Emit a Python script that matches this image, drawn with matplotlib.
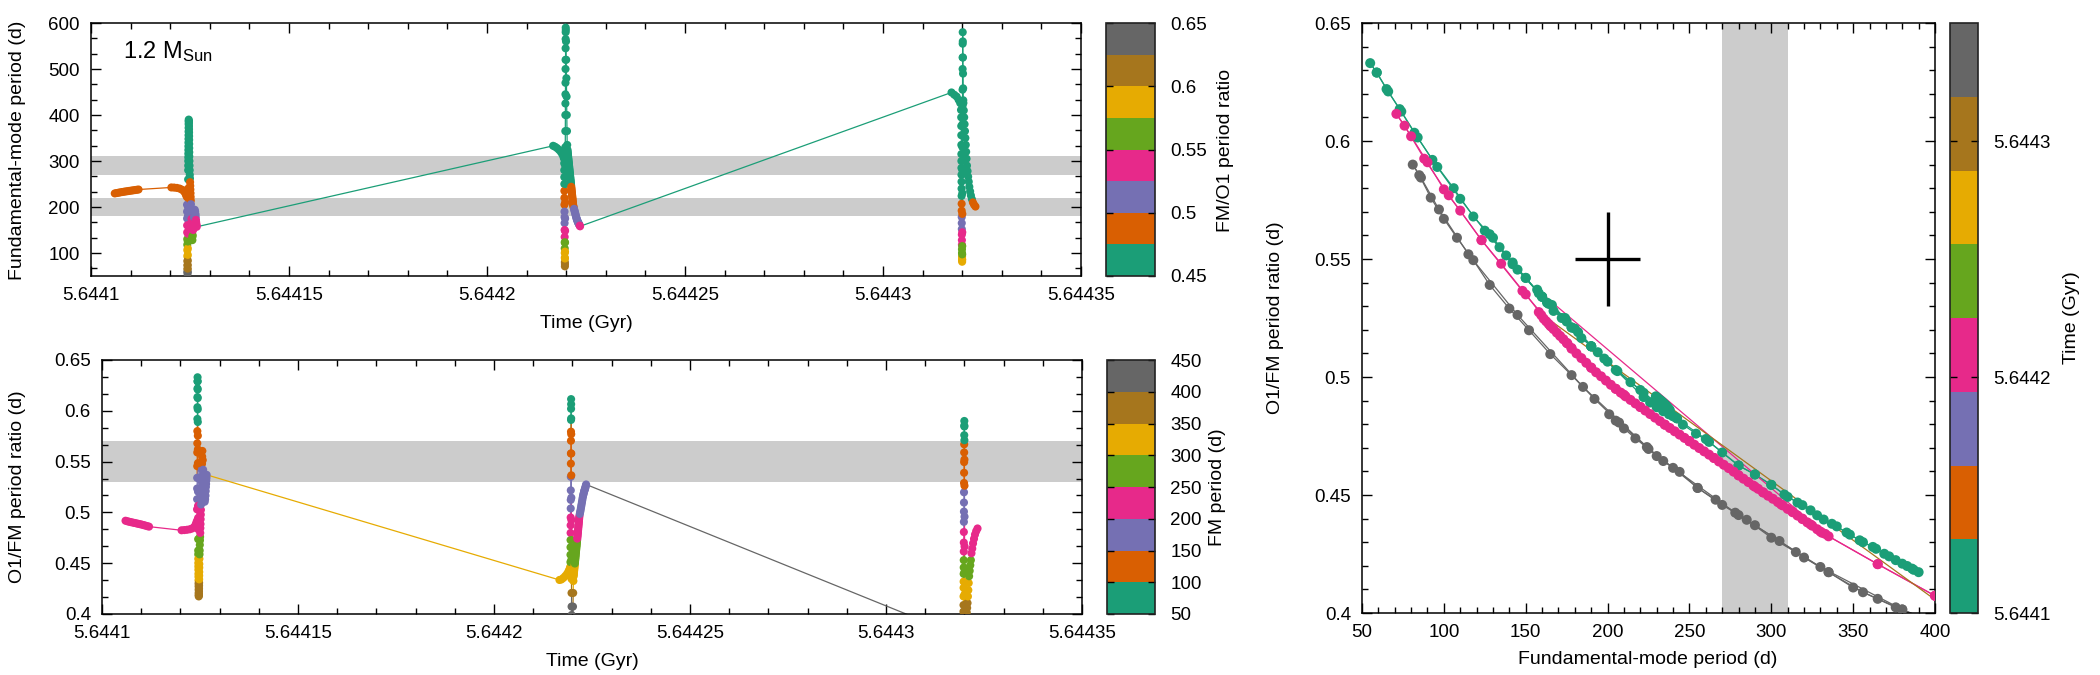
import numpy as np
import matplotlib
matplotlib.use('Agg')
import matplotlib.pyplot as plt
from matplotlib.colors import ListedColormap, Normalize
from matplotlib.collections import LineCollection
from matplotlib.ticker import FixedLocator, AutoMinorLocator
import matplotlib.cm as cm

plt.rcParams['font.family'] = ['Liberation Sans', 'DejaVu Sans']
plt.rcParams['mathtext.fontset'] = 'custom'
plt.rcParams['mathtext.rm'] = 'Liberation Sans'
plt.rcParams['mathtext.it'] = 'Liberation Sans:italic'

# ---------------- data ----------------
palette = ['#1b9e77', '#d95f02', '#7570b3', '#e7298a',
           '#66a61e', '#e6ab02', '#a6761d', '#666666']

# pulse 1
p1_time = [5.64410600, 5.64410646, 5.64410692, 5.64410738, 5.64410785, 5.64410831, 5.64410877,
           5.64410923, 5.64410969, 5.64411015, 5.64411062, 5.64411108, 5.64411154, 5.64411200,
           5.64412030, 5.64412100, 5.64412170, 5.64412240, 5.64412300, 5.64412350, 5.64412380,
           5.64412400, 5.64412420,
           5.64412425, 5.64412426, 5.64412427, 5.64412428, 5.64412429, 5.64412430, 5.64412431,
           5.64412432, 5.64412433, 5.64412434, 5.64412435, 5.64412436, 5.64412437, 5.64412438,
           5.64412440, 5.64412441, 5.64412442, 5.64412443, 5.64412444, 5.64412445, 5.64412446,
           5.64412447, 5.64412448, 5.64412449, 5.64412450, 5.64412451, 5.64412452, 5.64412453,
           5.64412454, 5.64412455, 5.64412456, 5.64412457, 5.64412458, 5.64412459, 5.64412460,
           5.64412461, 5.64412462, 5.64412463, 5.64412464, 5.64412465, 5.64412466, 5.64412467,
           5.64412468,
           5.64412472, 5.64412473, 5.64412474, 5.64412475, 5.64412476, 5.64412477, 5.64412478,
           5.64412479, 5.64412480, 5.64412481, 5.64412482,
           5.64412485, 5.64412488, 5.64412492, 5.64412495, 5.64412499, 5.64412502, 5.64412506,
           5.64412509, 5.64412513, 5.64412516, 5.64412520, 5.64412523, 5.64412527, 5.64412530,
           5.64412534, 5.64412537, 5.64412541, 5.64412544, 5.64412548, 5.64412551, 5.64412555,
           5.64412560,
           5.64412570, 5.64412580, 5.64412590, 5.64412600, 5.64412610, 5.64412620, 5.64412630,
           5.64412640, 5.64412645, 5.64412650, 5.64412655, 5.64412660, 5.64412665, 5.64412670]
p1_period = [229.5, 230.3, 231.0, 231.8, 232.5, 233.2, 233.8, 234.4, 235.0, 235.6, 236.2, 236.8, 237.4, 238.0,
             242.5, 242.2, 241.5, 240.0, 237.5, 234.0, 230.0, 226.0, 222.0,
             205, 190, 175, 160, 145, 130, 118, 106, 93, 82, 73, 65, 59, 55,
             59, 66, 74, 84, 96, 110, 125, 142, 160, 180, 200, 220, 240, 260, 280,
             290, 300, 308, 316, 324, 332, 340, 348, 356, 364, 372, 380, 386, 390,
             387, 383, 376, 369, 362, 354, 346, 337, 328, 319, 310,
             300, 290, 280, 270, 262, 254, 246, 238, 230, 222, 214, 206, 198, 190, 182, 174, 166, 158,
             150, 142, 134, 128,
             138, 150, 164, 178, 190, 194, 190, 184, 178, 172, 167, 163, 160, 157]
p1_ratio = [0.4918, 0.4913, 0.4908, 0.4904, 0.4900, 0.4896, 0.4892, 0.4888, 0.4884, 0.4880, 0.4875, 0.4870,
            0.4865, 0.4860,
            0.4824, 0.4826, 0.4829, 0.4834, 0.4842, 0.4855, 0.4872, 0.4892, 0.4915,
            0.503, 0.513, 0.5235, 0.534, 0.5455, 0.559, 0.568, 0.580, 0.592, 0.6035, 0.6135, 0.622, 0.629, 0.633,
            0.629, 0.621, 0.6125, 0.6015, 0.589, 0.5755, 0.562, 0.5485, 0.534, 0.5205, 0.5065, 0.4945, 0.4835,
            0.4737, 0.4625,
            0.4587, 0.4543, 0.4502, 0.4468, 0.4435, 0.4396, 0.4367, 0.4332, 0.4300, 0.4272, 0.4240, 0.4209,
            0.4188, 0.4173,
            0.4183, 0.4199, 0.4224, 0.4251, 0.4280, 0.4308, 0.4341, 0.4378, 0.4414, 0.4457, 0.4492,
            0.4543, 0.4587, 0.4625, 0.4680, 0.4725, 0.4760, 0.4798, 0.4845, 0.4885, 0.4933, 0.4978, 0.5025,
            0.5078, 0.5130, 0.5190, 0.5250, 0.5305, 0.5355,
            0.5420, 0.5478, 0.5550, 0.5605,
            0.5515, 0.542, 0.531, 0.521, 0.513, 0.5105, 0.513, 0.5165, 0.521, 0.525, 0.528, 0.5315, 0.534, 0.537]

# pulse 2
p2_time = [5.64421670, 5.64421720, 5.64421770, 5.64421820, 5.64421870, 5.64421910, 5.64421940,
           5.64421950, 5.64421951, 5.64421952, 5.64421953, 5.64421954, 5.64421955, 5.64421956, 5.64421957,
           5.64421958, 5.64421959, 5.64421960, 5.64421961, 5.64421962, 5.64421963, 5.64421964, 5.64421965,
           5.64421966, 5.64421967,
           5.64421968, 5.64421969, 5.64421970, 5.64421971, 5.64421972, 5.64421973, 5.64421974, 5.64421975,
           5.64421976, 5.64421977, 5.64421978, 5.64421979, 5.64421980, 5.64421981, 5.64421982, 5.64421983,
           5.64421984, 5.64421985, 5.64421986, 5.64421987, 5.64421988,
           5.64421990, 5.64421995, 5.64422000, 5.64422005, 5.64422010, 5.64422015, 5.64422020, 5.64422025,
           5.644220300, 5.644220336, 5.644220372, 5.644220408, 5.644220444, 5.644220480, 5.644220516,
           5.644220552, 5.644220588, 5.644220624, 5.644220660, 5.644220696, 5.644220732, 5.644220768,
           5.644220804, 5.644220840, 5.644220876, 5.644220912, 5.644220948, 5.644220984, 5.644221020,
           5.644221056, 5.644221092, 5.644221128, 5.644221164, 5.644221200, 5.644221236, 5.644221272,
           5.644221308, 5.644221344, 5.644221380, 5.644221416, 5.644221452, 5.644221488, 5.644221524,
           5.644221560, 5.644221596, 5.644221632, 5.644221668, 5.644221704, 5.644221740,
           5.644221800, 5.644221890, 5.644221980, 5.644222070, 5.644222160, 5.644222250, 5.644222340,
           5.644222430, 5.644222520, 5.644222610, 5.644222700, 5.644222790, 5.644222880, 5.644222970,
           5.644223060, 5.644223150, 5.644223240, 5.644223330, 5.644223420, 5.644223500]
p2_period = [333, 331, 328, 324, 319, 313, 306,
             295, 280, 265, 250, 235, 220, 205, 190, 178, 165, 150, 135, 123, 110, 100, 90, 80, 71,
             76, 88, 103, 123, 148, 175, 210, 250, 290, 330, 365, 400, 425, 445, 470, 500, 520, 545, 565, 580, 590,
             585, 560, 520, 480, 440, 400, 365, 335,
             325, 322, 319, 316, 313, 310, 307, 304, 301, 298, 295, 292, 289, 286, 283, 280, 277, 274, 271,
             268, 265, 262, 259, 256, 253, 250, 247, 244, 241, 238, 235, 232, 229, 226, 223, 220, 217, 214,
             211, 208, 205,
             202, 199, 196, 193, 190, 187, 184, 181, 178, 175.5, 173, 171, 169, 167, 165.5, 164, 162.5, 161,
             159.5, 158]
p2_ratio = [0.4335, 0.4340, 0.4355, 0.4375, 0.4400, 0.4430, 0.4460,
            0.4511, 0.4583, 0.4657, 0.4728, 0.4798, 0.4873, 0.4950, 0.5039, 0.5123, 0.5217, 0.5350, 0.5480,
            0.5580, 0.5705, 0.5795, 0.5910, 0.6020, 0.6115,
            0.6065, 0.5925, 0.5770, 0.5580, 0.5365, 0.5145, 0.4925, 0.4728, 0.4535, 0.4345, 0.4207, 0.4073,
            0.3990, 0.3930, 0.3860, 0.3770, 0.3720, 0.3660, 0.3610, 0.3570, 0.3550,
            0.3560, 0.3620, 0.3720, 0.3820, 0.3940, 0.4073, 0.4207, 0.4325,
            0.4370, 0.4384, 0.4398, 0.4413, 0.4427, 0.4441, 0.4456, 0.4470, 0.4484, 0.4497, 0.4511, 0.4526,
            0.4540, 0.4555, 0.4569, 0.4584, 0.4599, 0.4614, 0.4628, 0.4642, 0.4657, 0.4671, 0.4685, 0.4699,
            0.4713, 0.4728, 0.4742, 0.4756, 0.4770, 0.4784, 0.4798, 0.4813, 0.4828, 0.4843, 0.4858, 0.4873,
            0.4888, 0.4903, 0.4918, 0.4934, 0.4950,
            0.4967, 0.4985, 0.5003, 0.5020, 0.5040, 0.5060, 0.5080, 0.5100, 0.5120, 0.5142, 0.5160, 0.5174,
            0.5188, 0.5203, 0.5214, 0.5225, 0.5236, 0.5247, 0.5262, 0.5275]

# pulse 3
p3_time = [5.64431730, 5.64431800, 5.64431860, 5.64431910, 5.64431950, 5.64431970,
           5.64431975, 5.64431976, 5.64431977, 5.64431978, 5.64431979, 5.64431980, 5.64431981, 5.64431982,
           5.64431983, 5.64431984, 5.64431985, 5.64431986, 5.64431987, 5.64431988, 5.64431989, 5.64431990,
           5.64431991, 5.64431992, 5.64431993, 5.64431994, 5.64431995, 5.64431996, 5.64431997, 5.64431998,
           5.64431999, 5.64432000, 5.64432001, 5.64432002, 5.64432003, 5.64432004, 5.64432005, 5.64432006,
           5.64432007, 5.64432008, 5.64432009, 5.64432010, 5.64432011, 5.64432012, 5.64432013,
           5.64432015, 5.64432018, 5.64432021, 5.64432024, 5.64432027,
           5.64432030, 5.64432040, 5.64432050, 5.64432060, 5.64432070, 5.64432080, 5.64432090, 5.64432100,
           5.64432110, 5.64432120, 5.64432135, 5.64432150, 5.64432165, 5.64432180, 5.64432200, 5.64432220,
           5.64432245, 5.64432270, 5.64432300, 5.64432335]
p3_period = [449, 444, 440, 433, 426, 411,
             395, 376, 356, 335, 315, 300, 285, 270, 255, 240, 224, 207, 192, 178, 165, 152, 140, 128,
             118, 108, 100, 92, 85, 81,
             86, 97, 115, 145, 185, 230, 280, 330, 380, 420, 455, 500, 525, 555, 580,
             560, 525, 490, 458, 432,
             426, 410, 395, 380, 365, 350, 335, 320, 305, 290, 278, 266, 255, 244, 234, 225, 217, 210, 205, 201]
p3_ratio = [0.3810, 0.3825, 0.3840, 0.3860, 0.3880, 0.3920,
            0.3970, 0.4024, 0.4088, 0.4173, 0.4258, 0.4319, 0.4395, 0.4458, 0.4530, 0.4615, 0.4703, 0.4807,
            0.4907, 0.5008, 0.5097, 0.5198, 0.5290, 0.5390, 0.5495, 0.5590, 0.5670, 0.5760, 0.5855, 0.5900,
            0.5845, 0.5710, 0.5520, 0.5263, 0.4958, 0.4665, 0.4415, 0.4195, 0.4015, 0.3900, 0.3800, 0.3680,
            0.3620, 0.3550, 0.3490,
            0.3530, 0.3620, 0.3710, 0.3780, 0.3860,
            0.3880, 0.3925, 0.3970, 0.4015, 0.4060, 0.4108, 0.4173, 0.4235, 0.4305, 0.4372, 0.4425, 0.4480,
            0.4530, 0.4598, 0.4644, 0.4695, 0.4740, 0.4782, 0.4815, 0.4842]

period_bands = [(180, 220), (270, 310)]
ratio_band = (0.53, 0.57)
obs_period, obs_period_err = 200, 20
obs_ratio, obs_ratio_err = 0.55, 0.02

time_ticks = [5.6441, 5.64415, 5.6442, 5.64425, 5.6443, 5.64435]
time_tick_labels = ['5.6441', '5.64415', '5.6442', '5.64425', '5.6443', '5.64435']
period_ticks = [100, 200, 300, 400, 500, 600]
ratio_ticks = [0.4, 0.45, 0.5, 0.55, 0.6, 0.65]
ratio_tick_labels = ['0.4', '0.45', '0.5', '0.55', '0.6', '0.65']
ratio_cb_ticks = [0.45, 0.5, 0.55, 0.6, 0.65]
ratio_cb_labels = ['0.45', '0.5', '0.55', '0.6', '0.65']
fm_cb_ticks = [50, 100, 150, 200, 250, 300, 350, 400, 450]
right_x_ticks = [50, 100, 150, 200, 250, 300, 350, 400]
time_cb_ticks = [5.6441, 5.6442, 5.6443]
time_cb_labels = ['5.6441', '5.6442', '5.6443']

# ---------------- plotting ----------------
time = np.array(p1_time + p2_time + p3_time)
period = np.array(p1_period + p2_period + p3_period, dtype=float)
ratio = np.array(p1_ratio + p2_ratio + p3_ratio)

cmap = ListedColormap(palette)
norm_ratio = Normalize(0.45, 0.65)
norm_period = Normalize(50, 450)
norm_time = Normalize(5.6441, 5.64435)

W, H = 2100, 675
fig = plt.figure(figsize=(21, 6.75), dpi=100)


def px_axes(x0, y0, x1, y1):
    return fig.add_axes([x0 / W, 1 - y1 / H, (x1 - x0) / W, (y1 - y0) / H])


ax1 = px_axes(91, 23, 1081, 276)
cax1 = px_axes(1106, 23, 1155, 276)
ax2 = px_axes(102, 360, 1082, 614)
cax2 = px_axes(1107, 360, 1155, 614)
ax3 = px_axes(1362, 23, 1935, 613)
cax3 = px_axes(1950, 23, 1978, 613)

TICK_FS = 13.5
LAB_FS = 14


def track(ax, x, y, c, norm, size):
    pts = np.column_stack([x, y])
    segs = np.stack([pts[:-1], pts[1:]], axis=1)
    lc = LineCollection(segs, colors=cmap(norm(c[1:])), linewidths=0.9, zorder=2)
    ax.add_collection(lc)
    ax.scatter(x, y, c=c, cmap=cmap, norm=norm, s=size, edgecolors='none', zorder=3)


def style(ax):
    ax.tick_params(which='both', direction='in', top=True, right=True, labelsize=TICK_FS, pad=8)
    ax.tick_params(which='major', length=7, width=1.0)
    ax.tick_params(which='minor', length=4, width=1.0)
    for s in ax.spines.values():
        s.set_linewidth(1.1)


# top-left: period vs time
for lo, hi in period_bands:
    ax1.axhspan(lo, hi, color='#cccccc', lw=0, zorder=0)
track(ax1, time, period, ratio, norm_ratio, 34)
ax1.set_xlim(5.6441, 5.64435)
ax1.set_ylim(50, 600)
ax1.xaxis.set_major_locator(FixedLocator(time_ticks))
ax1.set_xticklabels(time_tick_labels)
ax1.xaxis.set_minor_locator(AutoMinorLocator(5))
ax1.yaxis.set_major_locator(FixedLocator(period_ticks))
ax1.yaxis.set_minor_locator(AutoMinorLocator(3))
style(ax1)
ax1.text(0.032, 0.86, r'1.2 M$_{\mathrm{Sun}}$', transform=ax1.transAxes, fontsize=17, va='baseline')

# bottom-left: ratio vs time
ax2.axhspan(*ratio_band, color='#cccccc', lw=0, zorder=0)
track(ax2, time, ratio, period, norm_period, 34)
ax2.set_xlim(5.6441, 5.64435)
ax2.set_ylim(0.4, 0.65)
ax2.xaxis.set_major_locator(FixedLocator(time_ticks))
ax2.set_xticklabels(time_tick_labels)
ax2.xaxis.set_minor_locator(AutoMinorLocator(5))
ax2.yaxis.set_major_locator(FixedLocator(ratio_ticks))
ax2.set_yticklabels(ratio_tick_labels)
ax2.yaxis.set_minor_locator(AutoMinorLocator(3))
style(ax2)

# right: ratio vs period
ax3.axvspan(*period_bands[1], color='#cccccc', lw=0, zorder=0)
track(ax3, period, ratio, time, norm_time, 52)
ax3.errorbar(obs_period, obs_ratio, xerr=obs_period_err, yerr=obs_ratio_err, fmt='none',
             ecolor='black', elinewidth=2.4, capsize=0, zorder=4)
ax3.set_xlim(50, 400)
ax3.set_ylim(0.4, 0.65)
ax3.xaxis.set_major_locator(FixedLocator(right_x_ticks))
ax3.xaxis.set_minor_locator(AutoMinorLocator(5))
ax3.yaxis.set_major_locator(FixedLocator(ratio_ticks))
ax3.set_yticklabels(ratio_tick_labels)
ax3.yaxis.set_minor_locator(AutoMinorLocator(5))
style(ax3)


def cbar(cax, norm, ticks, labels):
    sm = cm.ScalarMappable(norm=norm, cmap=cmap)
    cb = fig.colorbar(sm, cax=cax)
    cb.set_ticks(ticks)
    cb.set_ticklabels(labels)
    cb.outline.set_linewidth(1.2)
    cb.outline.set_edgecolor('#222222')
    cax.minorticks_off()
    cax.tick_params(direction='in', length=5, width=1.0, left=True, right=True,
                    labelsize=TICK_FS, pad=11)
    return cb


cbar(cax1, norm_ratio, ratio_cb_ticks, ratio_cb_labels)
cbar(cax2, norm_period, fm_cb_ticks, [str(v) for v in fm_cb_ticks])
cbar(cax3, norm_time, time_cb_ticks, time_cb_labels)


def ftext(x, y, s, rot=0):
    fig.text(x / W, 1 - y / H, s, rotation=rot, ha='center', va='center', fontsize=LAB_FS)


ftext(18, 150, 'Fundamental-mode period (d)', 90)
ftext(586, 323, 'Time (Gyr)')
ftext(18, 487, 'O1/FM period ratio (d)', 90)
ftext(592, 662, 'Time (Gyr)')
ftext(1226, 150, 'FM/O1 period ratio', 90)
ftext(1217, 487, 'FM period (d)', 90)
ftext(1275, 318, 'O1/FM period ratio (d)', 90)
ftext(1648, 660, 'Fundamental-mode period (d)')
ftext(2072, 318, 'Time (Gyr)', 90)

fig.savefig('out.png', dpi=100)
